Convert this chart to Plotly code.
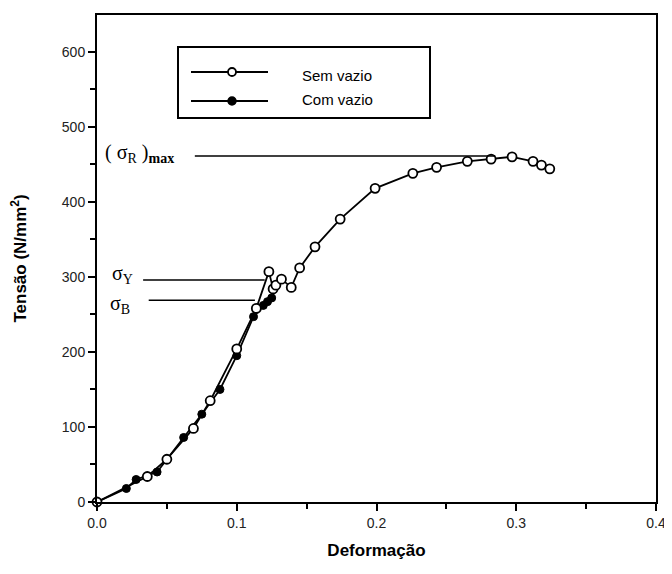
import plotly.graph_objects as go

# Sem vazio (open circles)
sem_x = [0.0, 0.036, 0.050, 0.069, 0.081, 0.100, 0.114, 0.123, 0.126, 0.128, 0.132, 0.139,
         0.145, 0.156, 0.174, 0.199, 0.226, 0.243, 0.265, 0.282, 0.297, 0.312, 0.318, 0.324]
sem_y = [0, 34, 57, 98, 135, 204, 258, 307, 284, 289, 297, 286,
         312, 340, 377, 418, 438, 446, 454, 457, 460, 454, 449, 444]

# Com vazio (filled circles)
com_x = [0.0, 0.021, 0.028, 0.043, 0.062, 0.075, 0.088, 0.100, 0.112, 0.119, 0.122, 0.125]
com_y = [0, 18, 30, 40, 86, 117, 150, 195, 247, 262, 267, 272]

# reference levels
sigma_r_max = 461
sigma_y = 296
sigma_b = 269

x_ticks = [0.0, 0.1, 0.2, 0.3, 0.4]
x_labels = ["0.0", "0.1", "0.2", "0.3", "0.4"]
y_ticks = [0, 100, 200, 300, 400, 500, 600]

fig = go.Figure()
fig.add_trace(go.Scatter(
    x=com_x, y=com_y, mode="lines+markers", name="Com vazio",
    line=dict(color="black", width=1.8),
    marker=dict(symbol="circle", size=8, color="black", line=dict(color="black", width=1)),
    showlegend=False, cliponaxis=False))
fig.add_trace(go.Scatter(
    x=sem_x, y=sem_y, mode="lines+markers", name="Sem vazio",
    line=dict(color="black", width=1.8),
    marker=dict(symbol="circle", size=9, color="white", line=dict(color="black", width=1.8)),
    showlegend=False, cliponaxis=False))

# guide lines
for x0, x1, yv in [(0.070, 0.285, sigma_r_max), (0.033, 0.120, sigma_y), (0.037, 0.113, sigma_b)]:
    fig.add_shape(type="line", x0=x0, x1=x1, y0=yv, y1=yv, xref="x", yref="y",
                  line=dict(color="black", width=1.5))

def px(xp):
    return (xp - 97) / 559

def py(yp):
    return (502 - yp) / 487

# custom legend
fig.add_shape(type="rect", xref="paper", yref="paper", x0=px(178), x1=px(430), y0=py(118), y1=py(47),
              line=dict(color="black", width=2), fillcolor="white", layer="above")
for yp in (72, 101):
    fig.add_shape(type="line", xref="paper", yref="paper", x0=px(191), x1=px(268), y0=py(yp), y1=py(yp),
                  line=dict(color="black", width=2), layer="above")
fig.add_shape(type="circle", xref="paper", yref="paper", xsizemode="pixel", ysizemode="pixel",
              xanchor=px(232), yanchor=py(72), x0=-4, x1=4, y0=-4, y1=4,
              line=dict(color="black", width=1.8), fillcolor="white", layer="above")
fig.add_shape(type="circle", xref="paper", yref="paper", xsizemode="pixel", ysizemode="pixel",
              xanchor=px(232), yanchor=py(101), x0=-4, x1=4, y0=-4, y1=4,
              line=dict(color="black", width=1.5), fillcolor="black", layer="above")
fig.add_annotation(x=px(300), y=py(75), xref="paper", yref="paper", text="Sem vazio", showarrow=False,
                   xanchor="left", yanchor="middle", font=dict(family="Liberation Sans", size=15, color="black"))
fig.add_annotation(x=px(300), y=py(99), xref="paper", yref="paper", text="Com vazio", showarrow=False,
                   xanchor="left", yanchor="middle", font=dict(family="Liberation Sans", size=15, color="black"))

# sigma labels
serif = dict(family="Liberation Serif", size=20, color="black")
fig.add_annotation(x=px(103), y=py(153), xref="paper", yref="paper",
                   text="( σ<sub>R</sub> )<sub><b>max</b></sub>", showarrow=False,
                   xanchor="left", yanchor="middle", font=serif)
fig.add_annotation(x=px(110), y=py(275), xref="paper", yref="paper",
                   text="σ<sub>Y</sub>", showarrow=False, xanchor="left", yanchor="middle", font=serif)
fig.add_annotation(x=px(108), y=py(304), xref="paper", yref="paper",
                   text="σ<sub>B</sub>", showarrow=False, xanchor="left", yanchor="middle", font=serif)

axis_common = dict(showline=True, linecolor="black", linewidth=2, mirror=True,
                   showgrid=False, zeroline=False, ticks="outside", tickcolor="black",
                   tickwidth=2, ticklen=7, automargin=False,
                   tickfont=dict(family="Liberation Sans", size=14, color="#222"))

fig.update_xaxes(range=[0, 0.4], tickvals=x_ticks, ticktext=x_labels,
                 minor=dict(dtick=0.05, ticks="outside", ticklen=5, tickwidth=2, tickcolor="black"),
                 title=dict(text="<b>Deformação</b>", standoff=14,
                            font=dict(family="Liberation Sans Narrow, Liberation Sans", size=17, color="black")),
                 **axis_common)
fig.update_yaxes(range=[0, 649], tickvals=y_ticks,
                 minor=dict(dtick=50, ticks="outside", ticklen=5, tickwidth=2, tickcolor="black"),
                 title=dict(text="<b>Tensão (N/mm<sup>2</sup>)</b>", standoff=35,
                            font=dict(family="Liberation Sans Narrow, Liberation Sans", size=17, color="black")),
                 **axis_common)

# page body has an 8px margin, so the figure is offset by 8px
fig.update_layout(width=664, height=566, margin=dict(l=89, r=16, t=7, b=72),
                  plot_bgcolor="white", paper_bgcolor="white", showlegend=False)

fig.write_html("out.html")
